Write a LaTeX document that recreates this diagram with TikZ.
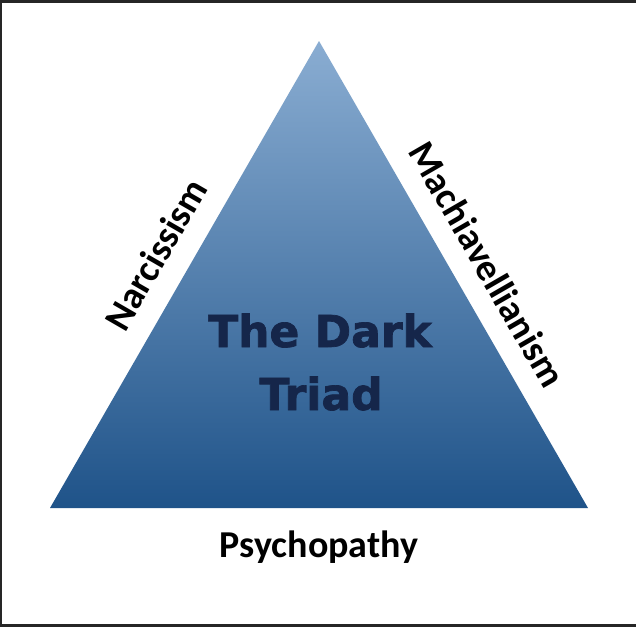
\documentclass[tikz,border=0pt]{standalone}
\usepackage{fontspec}
\newfontfamily\calibfont{Carlito}
\newfontfamily\heavyfont{DejaVu Sans}[BoldFeatures={FakeBold=1.6}]
\definecolor{tritop}{HTML}{8AADD2}
\definecolor{tribot}{HTML}{1F5389}
\definecolor{titlecol}{HTML}{15264A}
\definecolor{framecol}{HTML}{262626}
\begin{document}
\begin{tikzpicture}[x=1pt,y=-1pt,
  sidelabel/.style={inner sep=0pt, anchor=base, text=black, font=\calibfont\bfseries\fontsize{38}{38}\selectfont},
  titletext/.style={inner sep=0pt, anchor=base, text=titlecol, font=\heavyfont\bfseries\fontsize{44}{44}\selectfont}]
\useasboundingbox (0,0) rectangle (636,627);
\fill[white] (0,0) rectangle (636,627);
% frame
\fill[framecol] (0,0) rectangle (636,3);
\fill[framecol] (0,0) rectangle (1.5,627);
\fill[framecol] (0,624) rectangle (636,627);
% triangle
\coordinate (apex) at (319,41);
\coordinate (bl) at (50,508);
\coordinate (br) at (588,508);
\shade[top color=tritop, bottom color=tribot] (apex) -- (br) -- (bl) -- cycle;
% title
\node[titletext] (t1) at (320,347) {The Dark};
\node[titletext] (t2) at (321,410) {Triad};
% side labels
\node[sidelabel, rotate=60] (narc) at (167,261) {Narcissism};
\node[sidelabel, rotate=-60] (mach) at (476,271) {Machiavellianism};
\node[sidelabel] (psy) at (319,557) {Psychopathy};
\end{tikzpicture}
\end{document}
